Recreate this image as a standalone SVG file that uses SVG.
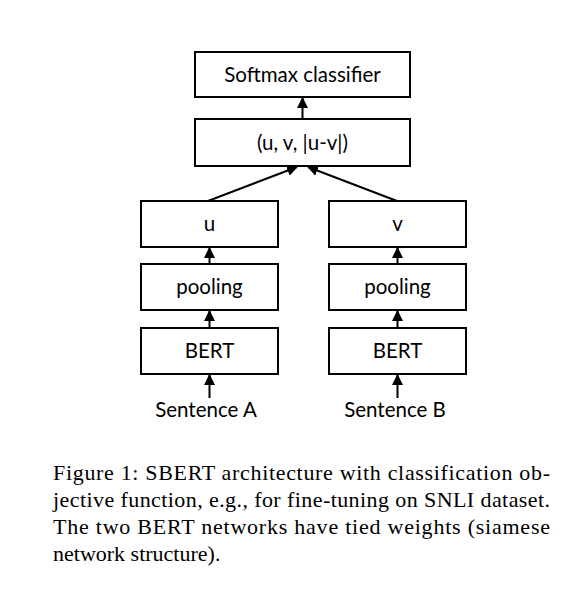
<svg xmlns="http://www.w3.org/2000/svg" width="586" height="605" viewBox="0 0 586 605">
<defs>
<style>
.box{fill:#fff;stroke:#000;stroke-width:2}
.lbl{font-family:Lato,"Open Sans","Liberation Sans",sans-serif;font-size:20.5px;fill:#000;text-anchor:middle}
.cap{font-family:"Liberation Serif",serif;font-size:22px;fill:#000}
.conn{stroke:#000;stroke-width:2;fill:none;marker-end:url(#ah)}
</style>
<marker id="ah" viewBox="0 0 10 10" refX="9" refY="5" markerWidth="5.5" markerHeight="5.5" orient="auto" markerUnits="strokeWidth">
<path d="M0,0 L10,5 L0,10 z" fill="#000"/>
</marker>
</defs>
<rect width="586" height="605" fill="#fff"/>
<g id="softmax"><rect class="box" x="195" y="52" width="215" height="45"/><text class="lbl" x="302.5" y="82">Softmax classifier</text></g>
<g id="concat"><rect class="box" x="195" y="119" width="215" height="47"/><text class="lbl" x="302.5" y="150">(u, v, |u-v|)</text></g>
<g id="u"><rect class="box" x="141" y="201" width="137" height="46"/><text class="lbl" x="209.5" y="231">u</text></g>
<g id="poolA"><rect class="box" x="141" y="264" width="137" height="46"/><text class="lbl" x="209.5" y="294">pooling</text></g>
<g id="bertA"><rect class="box" x="141" y="328" width="137" height="46"/><text class="lbl" x="209.5" y="358">BERT</text></g>
<g id="v"><rect class="box" x="329" y="201" width="137" height="46"/><text class="lbl" x="397.5" y="231">v</text></g>
<g id="poolB"><rect class="box" x="329" y="264" width="137" height="46"/><text class="lbl" x="397.5" y="294">pooling</text></g>
<g id="bertB"><rect class="box" x="329" y="328" width="137" height="46"/><text class="lbl" x="397.5" y="358">BERT</text></g>
<g id="sentA"><text class="lbl" x="206" y="417">Sentence A</text></g>
<g id="sentB"><text class="lbl" x="395" y="417">Sentence B</text></g>
<g id="connectors">
<line class="conn" x1="302.5" y1="119" x2="302.5" y2="98"/>
<line class="conn" x1="208" y1="201" x2="297" y2="167"/>
<line class="conn" x1="397" y1="201" x2="308" y2="167"/>
<line class="conn" x1="209.5" y1="264" x2="209.5" y2="248"/>
<line class="conn" x1="209.5" y1="328" x2="209.5" y2="311"/>
<line class="conn" x1="209.5" y1="398" x2="209.5" y2="375"/>
<line class="conn" x1="397.5" y1="264" x2="397.5" y2="248"/>
<line class="conn" x1="397.5" y1="328" x2="397.5" y2="311"/>
<line class="conn" x1="397.5" y1="398" x2="397.5" y2="375"/>
</g>
<g id="caption">
<text class="cap" x="53" y="480" textLength="497" lengthAdjust="spacing">Figure 1:  SBERT architecture with classification ob-</text>
<text class="cap" x="53" y="507" textLength="497" lengthAdjust="spacing">jective function, e.g., for fine-tuning on SNLI dataset.</text>
<text class="cap" x="53" y="534" textLength="497" lengthAdjust="spacing">The two BERT networks have tied weights (siamese</text>
<text class="cap" x="53" y="561">network structure).</text>
</g>
</svg>
